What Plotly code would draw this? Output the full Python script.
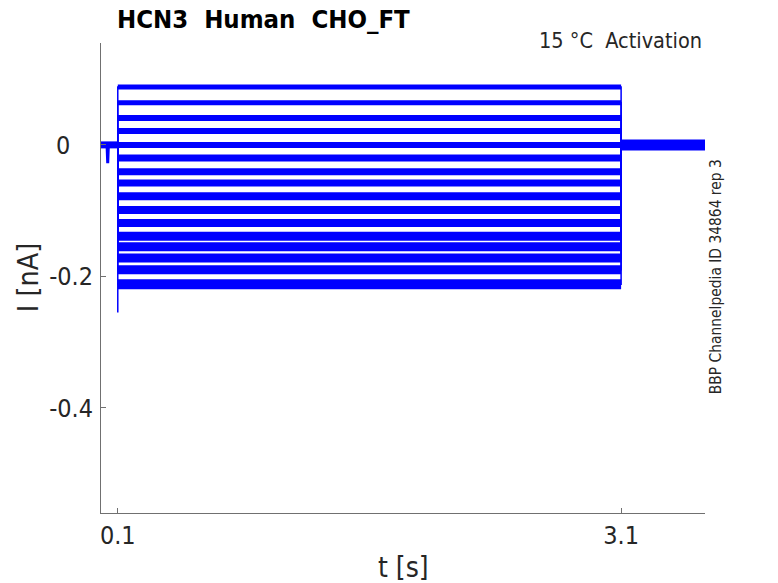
import plotly.graph_objects as go

step_levels = [0.088, 0.064, 0.041, 0.021, 0.0, -0.020, -0.041, -0.058,
               -0.078, -0.099, -0.119, -0.139, -0.155, -0.172, -0.190, -0.212]
# apparent noise band thickness of each sweep (px)
band_widths = [5, 5, 6, 6, 6, 7, 7, 7, 8, 8, 8, 9, 9, 9, 9, 10]

t_start = 0.0
t_on = 0.1
t_off = 3.1
t_end = 3.6

# holding segment with the small artifact before the step
pre_t = [0.0, 0.036, 0.040, 0.044, 0.1]
pre_i = [0.0, 0.0, -0.028, 0.0, 0.0]
onset_peak = -0.255

FONT = "DejaVu Sans Condensed, DejaVu Sans, sans-serif"
BLUE = "#0000ff"
# page draws the figure 8px in from the top-left corner
W, H = 770, 575
L, R, T, B = 93, 73, 35, 70
# plot area in window pixels
PL, PR, PT, PB = 101, 705, 43, 512.7


def px(x, y):
    # window pixel position -> paper coordinates
    return (x - PL) / (PR - PL), (PB - y) / (PB - PT)


fig = go.Figure()

# thin step outlines (onset and offset edges)
for lev in step_levels:
    fig.add_trace(go.Scatter(x=[t_on, t_on, t_off, t_off], y=[0, lev, lev, 0],
                             mode="lines", line=dict(color=BLUE, width=1.5),
                             hoverinfo="skip"))
fig.add_trace(go.Scatter(x=[t_on, t_on], y=[step_levels[-1], onset_peak],
                         mode="lines", line=dict(color=BLUE, width=1.5),
                         hoverinfo="skip"))

# noisy plateaus drawn as thick bands
for lev, w in zip(step_levels, band_widths):
    fig.add_trace(go.Scatter(x=[t_on, t_off], y=[lev, lev], mode="lines",
                             line=dict(color=BLUE, width=w), hoverinfo="skip"))

# holding current before and after the step
fig.add_trace(go.Scatter(x=pre_t, y=pre_i, mode="lines",
                         line=dict(color=BLUE, width=3), hoverinfo="skip"))
fig.add_trace(go.Scatter(x=[t_start, t_on], y=[0, 0], mode="lines",
                         line=dict(color=BLUE, width=7), hoverinfo="skip"))
fig.add_trace(go.Scatter(x=[t_off, t_end], y=[0, 0], mode="lines",
                         line=dict(color=BLUE, width=11), hoverinfo="skip"))

axis_style = dict(showline=True, linecolor="#707070", linewidth=1,
                  ticks="inside", ticklen=5, tickcolor="#707070",
                  showgrid=False, zeroline=False,
                  tickfont=dict(family=FONT, size=25, color="#262626"))

fig.update_xaxes(range=[t_start, t_end], tickvals=[t_on, t_off],
                 ticktext=["0.1", "3.1"], **axis_style)
fig.update_yaxes(range=[-0.56, 0.155], tickvals=[-0.4, -0.2, 0],
                 ticktext=["-0.4", "-0.2", ""], ticklabelstandoff=2,
                 **axis_style)

annots = [
    ("HCN3  Human  CHO_FT", 115, 19, "left", 0, 25.5, True),
    ("15 °C  Activation", 704, 41, "right", 0, 21.5, False),
    ("BBP Channelpedia ID 34864 rep 3", 716, 277, "center", -90, 15.4, False),
    ("I [nA]", 28, 277, "center", -90, 28.5, False),
    ("t [s]", 403, 567, "center", 0, 28, False),
    ("0", 63, 145, "center", 0, 25, False),
]
for text, x, y, anchor, ang, size, bold in annots:
    ax, ay = px(x, y)
    fig.add_annotation(x=ax, y=ay, xref="paper", yref="paper", text=text,
                       showarrow=False, xanchor=anchor, yanchor="middle",
                       textangle=ang,
                       font=dict(family=FONT, size=size,
                                 color="#000000" if bold else "#262626",
                                 weight="bold" if bold else "normal"))

fig.update_layout(width=W, height=H, autosize=False, showlegend=False,
                  template="plotly_white", plot_bgcolor="white",
                  paper_bgcolor="white",
                  margin=dict(l=L, r=R, t=T, b=B))

fig.write_html("out.html")
